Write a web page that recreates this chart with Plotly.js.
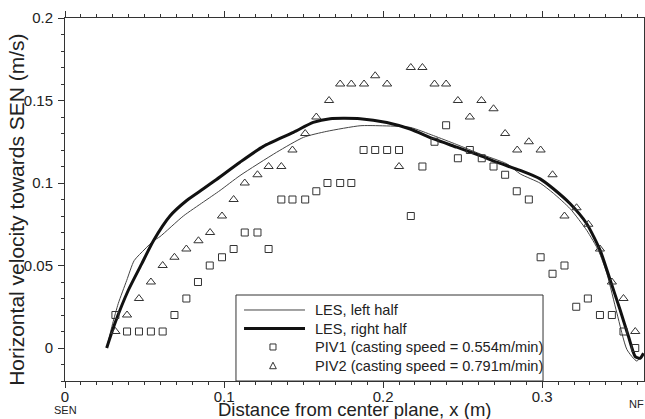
<!DOCTYPE html>
<html>
<head>
<meta charset="utf-8">
<script src="https://cdn.plot.ly/plotly-3.0.1.min.js"></script>
<style>html,body{margin:0;padding:0;background:#fff;}#chart{width:645px;height:419px;}</style>
</head>
<body>
<div id="chart"></div>
<script>
// LES, left half (thin line)
const lesLeftX = [0.0262,0.0300,0.0335,0.0388,0.0435,0.0503,0.0556,0.0597,0.0744,0.087,0.0975,0.110,0.133,0.150,0.1646,0.1855,0.198,0.217,0.2317,0.2463,0.261,0.2778,0.2862,0.2987,0.307,0.3176,0.328,0.3354,0.3407,0.347,0.3533,0.3595,0.3627];
const lesLeftY = [0.0,0.015,0.027,0.041,0.053,0.060,0.065,0.0675,0.080,0.0885,0.0955,0.1045,0.1186,0.1277,0.1313,0.1347,0.1347,0.1337,0.1287,0.1233,0.1176,0.1116,0.1055,0.0999,0.0938,0.0844,0.0713,0.059,0.045,0.021,-0.001,-0.0079,-0.0042];
// LES, right half (thick line)
const lesRightX = [0.0262,0.0314,0.0398,0.0482,0.0556,0.066,0.0765,0.087,0.0943,0.110,0.1247,0.1436,0.156,0.1667,0.1855,0.2023,0.217,0.2317,0.2463,0.261,0.2715,0.2862,0.2987,0.307,0.3176,0.328,0.3365,0.3428,0.349,0.3543,0.3585,0.3616,0.3637];
const lesRightY = [0.0,0.015,0.035,0.051,0.065,0.080,0.0894,0.0965,0.1015,0.1126,0.1222,0.1307,0.1367,0.139,0.139,0.1367,0.1327,0.1267,0.1217,0.1166,0.1126,0.1076,0.1025,0.0965,0.0874,0.0753,0.059,0.041,0.023,0.0068,-0.0052,-0.0062,-0.0032];
// PIV1 (squares)
const piv1X = [0.0317,0.039,0.0465,0.054,0.0614,0.0688,0.0763,0.0836,0.091,0.0987,0.106,0.113,0.121,0.128,0.136,0.143,0.151,0.158,0.165,0.173,0.180,0.1877,0.195,0.2025,0.21,0.2174,0.2247,0.2323,0.2396,0.247,0.2545,0.262,0.2694,0.2767,0.284,0.2916,0.299,0.3065,0.314,0.3214,0.3287,0.3363,0.3438,0.3511,0.3585];
const piv1Y = [0.02,0.01,0.01,0.01,0.01,0.02,0.03,0.04,0.05,0.055,0.06,0.07,0.07,0.06,0.09,0.09,0.09,0.095,0.10,0.10,0.10,0.12,0.12,0.12,0.12,0.08,0.11,0.125,0.135,0.115,0.12,0.115,0.11,0.105,0.095,0.09,0.055,0.045,0.05,0.025,0.03,0.02,0.02,0.01,0.0];
// PIV2 (triangles)
const piv2X = [0.0317,0.039,0.0465,0.054,0.0614,0.0688,0.0763,0.0839,0.0912,0.0987,0.106,0.113,0.121,0.128,0.136,0.143,0.151,0.158,0.166,0.173,0.180,0.188,0.195,0.2025,0.21,0.2174,0.2247,0.2323,0.2396,0.247,0.2545,0.2618,0.2694,0.2767,0.2843,0.2916,0.299,0.3065,0.314,0.3216,0.329,0.3363,0.3438,0.3511,0.3585];
const piv2Y = [0.01,0.02,0.03,0.04,0.05,0.055,0.06,0.065,0.07,0.08,0.09,0.10,0.105,0.11,0.11,0.12,0.13,0.14,0.15,0.16,0.16,0.16,0.165,0.16,0.11,0.17,0.17,0.16,0.16,0.15,0.14,0.15,0.145,0.13,0.12,0.125,0.12,0.105,0.08,0.085,0.075,0.06,0.04,0.03,0.01];

const seriesNames = ['LES, left half', 'LES, right half', 'PIV1 (casting speed = 0.554m/min)', 'PIV2 (casting speed = 0.791m/min)'];
const xTickVals = [0, 0.1, 0.2, 0.3];
const xTickText = ['0', '0.1', '0.2', '0.3'];
const yTickVals = [0, 0.05, 0.1, 0.15, 0.2];
const yTickText = ['0', '0.05', '0.1', '0.15', '0.2'];

const FONT = 'Liberation Sans, Arial, sans-serif';
const INK = '#222';
const traces = [
  {x: lesLeftX, y: lesLeftY, mode: 'lines', name: seriesNames[0],
   line: {color: '#444', width: 1, shape: 'spline', smoothing: 0.6}},
  {x: lesRightX, y: lesRightY, mode: 'lines', name: seriesNames[1],
   line: {color: '#111', width: 3, shape: 'spline', smoothing: 0.6}},
  {x: piv1X, y: piv1Y, mode: 'markers', name: seriesNames[2],
   marker: {symbol: 'square-open', size: 7, color: '#333', line: {width: 1, color: '#333'}}},
  {x: piv2X, y: piv2Y, mode: 'markers', name: seriesNames[3],
   marker: {symbol: 'triangle-up-open', size: 8, color: '#333', line: {width: 1, color: '#333'}}}
];

const axisCommon = {
  showline: true, linecolor: '#333', linewidth: 1, mirror: 'allticks',
  ticks: 'outside', ticklen: 6, tickcolor: '#333', tickwidth: 1,
  showgrid: false, zeroline: false,
  tickfont: {family: FONT, size: 15, color: INK}
};

// legend box geometry (paper coordinates)
const LG = {x0: 0.2953, x1: 0.8256, y0: 0.0, y1: 0.2369,
            rows: [0.1956, 0.1446, 0.0937, 0.0413],
            sx0: 0.3092, sx1: 0.4145, sc: 0.3592, tx: 0.4283};
const shapes = [
  {type: 'rect', xref: 'paper', yref: 'paper', x0: LG.x0, x1: LG.x1, y0: LG.y0, y1: LG.y1,
   line: {color: '#333', width: 1}, fillcolor: '#fff', layer: 'above'},
  {type: 'line', xref: 'paper', yref: 'paper', x0: LG.sx0, x1: LG.sx1, y0: LG.rows[0], y1: LG.rows[0],
   line: {color: '#444', width: 1}, layer: 'above'},
  {type: 'line', xref: 'paper', yref: 'paper', x0: LG.sx0, x1: LG.sx1, y0: LG.rows[1], y1: LG.rows[1],
   line: {color: '#111', width: 3}, layer: 'above'},
  {type: 'rect', xref: 'paper', yref: 'paper', x0: LG.sc - 0.0052, x1: LG.sc + 0.0052,
   y0: LG.rows[2] - 0.0083, y1: LG.rows[2] + 0.0083, line: {color: '#333', width: 1}, layer: 'above'},
  {type: 'path', xref: 'paper', yref: 'paper',
   path: 'M ' + (LG.sc - 0.0058) + ' ' + (LG.rows[3] - 0.0075) + ' L ' + (LG.sc + 0.0058) + ' ' + (LG.rows[3] - 0.0075) +
         ' L ' + LG.sc + ' ' + (LG.rows[3] + 0.0105) + ' Z',
   line: {color: '#333', width: 1}, layer: 'above'}
];

const annotations = [
  {text: 'SEN', x: 0, xref: 'x', y: 0, yref: 'paper', yanchor: 'top', xanchor: 'center',
   yshift: -21, showarrow: false, font: {family: FONT, size: 11, color: INK}},
  {text: 'NF', x: 0.3595, xref: 'x', y: 0, yref: 'paper', yanchor: 'top', xanchor: 'center',
   yshift: -15, showarrow: false, font: {family: FONT, size: 11, color: INK}},
  {text: 'Horizontal velocity towards SEN (m/s)', textangle: -90, x: -0.085, xref: 'paper',
   y: 0.471, yref: 'paper', xanchor: 'center', yanchor: 'middle', showarrow: false,
   font: {family: FONT, size: 21, color: INK}},
  {text: 'Distance from center plane, x (m)', x: 0.5, xref: 'paper', y: 0, yref: 'paper',
   xanchor: 'center', yanchor: 'top', yshift: -16, showarrow: false,
   font: {family: FONT, size: 18.5, color: INK}}
];
seriesNames.forEach(function (n, i) {
  annotations.push({text: n, x: LG.tx, xref: 'paper', y: LG.rows[i], yref: 'paper',
    xanchor: 'left', yanchor: 'middle', showarrow: false,
    font: {family: FONT, size: 14.6, color: INK}});
});

const minorTicks = {ticks: 'outside', ticklen: 3, dtick: 0.01, tickcolor: '#333', showgrid: false};
const layout = {
  width: 645, height: 419,
  margin: {l: 65, r: 1, t: 18, b: 38},
  paper_bgcolor: '#fff', plot_bgcolor: '#fff',
  font: {family: FONT, color: INK},
  showlegend: false,
  xaxis: Object.assign({}, axisCommon, {
    range: [0, 0.364], tickmode: 'array', tickvals: xTickVals, ticktext: xTickText,
    ticklabelstandoff: -4, minor: minorTicks
  }),
  yaxis: Object.assign({}, axisCommon, {
    range: [-0.02, 0.2], tickmode: 'array', tickvals: yTickVals, ticktext: yTickText,
    ticklabelstandoff: 2, minor: minorTicks
  }),
  shapes: shapes,
  annotations: annotations
};

Plotly.newPlot('chart', traces, layout, {displayModeBar: false, staticPlot: true});
</script>
</body>
</html>
